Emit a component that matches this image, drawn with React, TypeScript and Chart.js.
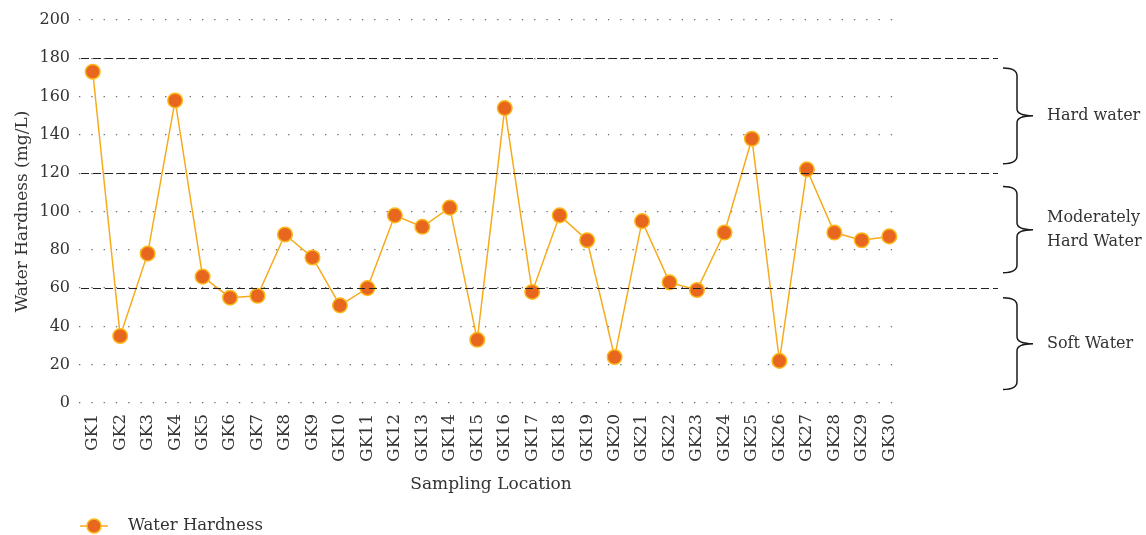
import React, { useEffect, useRef } from "react";
import { Chart, registerables } from "chart.js";

Chart.register(...registerables);

const categories = [
  "GK1", "GK2", "GK3", "GK4", "GK5", "GK6", "GK7", "GK8", "GK9", "GK10",
  "GK11", "GK12", "GK13", "GK14", "GK15", "GK16", "GK17", "GK18", "GK19", "GK20",
  "GK21", "GK22", "GK23", "GK24", "GK25", "GK26", "GK27", "GK28", "GK29", "GK30",
];

const hardness = [
  173, 35, 78, 158, 66, 55, 56, 88, 76, 51,
  60, 98, 92, 102, 33, 154, 58, 98, 85, 24,
  95, 63, 59, 89, 138, 22, 122, 89, 85, 87,
];

const yMin = 0;
const yMax = 200;
const yStep = 20;

const thresholds = [60, 120, 180];

const zoneLabels: (string | string[])[] = ["Hard water", ["Moderately", "Hard Water"], "Soft Water"];
const zoneLow = [125, 68, 7];
const zoneHigh = [175, 113, 55];

const seriesName = "Water Hardness";
const yTitle = "Water Hardness (mg/L)";
const xTitle = "Sampling Location";

const FONT = "'DejaVu Serif', serif";
const TEXT = "#333333";
const LINE = "#F6AB1C";
const POINT_FILL = "#E8671F";
const POINT_BORDER = "#FBB81A";

const overlayPlugin = {
  id: "overlay",
  afterDatasetsDraw(chart: any) {
    const { ctx, chartArea, scales } = chart;
    const y = scales.y;
    ctx.save();
    // threshold dashed lines
    ctx.strokeStyle = "#222222";
    ctx.lineWidth = 1.2;
    ctx.setLineDash([8, 4]);
    thresholds.forEach((t) => {
      const py = Math.round(y.getPixelForValue(t)) + 0.5;
      ctx.beginPath();
      ctx.moveTo(chartArea.left + 2, py);
      ctx.lineTo(chartArea.right + 95, py);
      ctx.stroke();
    });
    ctx.setLineDash([]);

    // braces
    ctx.lineWidth = 1.5;
    ctx.strokeStyle = "#1a1a1a";
    const xe = chartArea.right + 100;
    const xv = chartArea.right + 114;
    const xt = chartArea.right + 130;
    zoneLow.forEach((lo, i) => {
      const yTop = y.getPixelForValue(zoneHigh[i]);
      const yBot = y.getPixelForValue(lo);
      const ym = (yTop + yBot) / 2;
      ctx.beginPath();
      ctx.moveTo(xe, yTop);
      ctx.quadraticCurveTo(xv, yTop, xv, yTop + 8);
      ctx.lineTo(xv, ym - 7);
      ctx.quadraticCurveTo(xv, ym, xt, ym);
      ctx.moveTo(xt, ym);
      ctx.quadraticCurveTo(xv, ym, xv, ym + 7);
      ctx.lineTo(xv, yBot - 8);
      ctx.quadraticCurveTo(xv, yBot, xe, yBot);
      ctx.stroke();

      ctx.fillStyle = TEXT;
      ctx.font = `16px ${FONT}`;
      ctx.textAlign = "left";
      ctx.textBaseline = "middle";
      const lbl = zoneLabels[i];
      const lines = Array.isArray(lbl) ? lbl : [lbl];
      const lh = 24;
      lines.forEach((ln, k) => {
        const off = (k - (lines.length - 1) / 2) * lh;
        ctx.fillText(ln, chartArea.right + 144, ym + off);
      });
    });

    // legend
    const ly = 526;
    ctx.strokeStyle = LINE;
    ctx.lineWidth = 1.5;
    ctx.beginPath();
    ctx.moveTo(80, ly);
    ctx.lineTo(108, ly);
    ctx.stroke();
    ctx.beginPath();
    ctx.arc(94, ly, 7, 0, Math.PI * 2);
    ctx.fillStyle = POINT_FILL;
    ctx.fill();
    ctx.strokeStyle = POINT_BORDER;
    ctx.stroke();
    ctx.fillStyle = TEXT;
    ctx.font = `16.5px ${FONT}`;
    ctx.textAlign = "left";
    ctx.textBaseline = "middle";
    ctx.fillText(seriesName, 128, ly);
    ctx.restore();
  },
};

export default function App() {
  const ref = useRef<HTMLCanvasElement | null>(null);

  useEffect(() => {
    if (!ref.current) return;
    const chart = new Chart(ref.current, {
      type: "line",
      data: {
        labels: categories,
        datasets: [
          {
            label: seriesName,
            data: hardness,
            borderColor: LINE,
            borderWidth: 1.5,
            backgroundColor: POINT_FILL,
            pointBackgroundColor: POINT_FILL,
            pointBorderColor: POINT_BORDER,
            pointBorderWidth: 1.5,
            pointRadius: 7.3,
            pointHoverRadius: 7.3,
            tension: 0,
            fill: false,
          },
        ],
      },
      options: {
        responsive: false,
        animation: false,
        layout: { padding: { left: 8, right: 243, top: 20, bottom: 35.8 } },
        plugins: {
          legend: { display: false },
          tooltip: { enabled: false },
        },
        scales: {
          x: {
            offset: true,
            grid: { display: false, drawTicks: false },
            border: { display: false },
            ticks: {
              color: TEXT,
              font: { family: FONT, size: 17 },
              minRotation: 90,
              maxRotation: 90,
              padding: 11,
              autoSkip: false,
            },
            title: {
              display: true,
              text: xTitle,
              color: TEXT,
              font: { family: FONT, size: 17 },
            },
            afterFit: (scale: any) => {
              scale.height = 96.2;
            },
          },
          y: {
            min: yMin,
            max: yMax,
            ticks: {
              stepSize: yStep,
              color: TEXT,
              font: { family: FONT, size: 16 },
              padding: 9,
            },
            grid: {
              color: "#6a6a6a",
              lineWidth: 1.3,
              drawTicks: false,
            },
            border: { display: false, dash: [1.3, 11] },
            title: {
              display: true,
              text: yTitle,
              color: TEXT,
              font: { family: FONT, size: 17 },
            },
            afterFit: (scale: any) => {
              scale.width = 71;
            },
          },
        },
      },
      plugins: [overlayPlugin],
    });
    return () => chart.destroy();
  }, []);

  return (
    <div style={{ position: "absolute", left: 0, top: 0, width: 1146, height: 535 }}>
      <canvas ref={ref} width={1146} height={535} />
    </div>
  );
}
